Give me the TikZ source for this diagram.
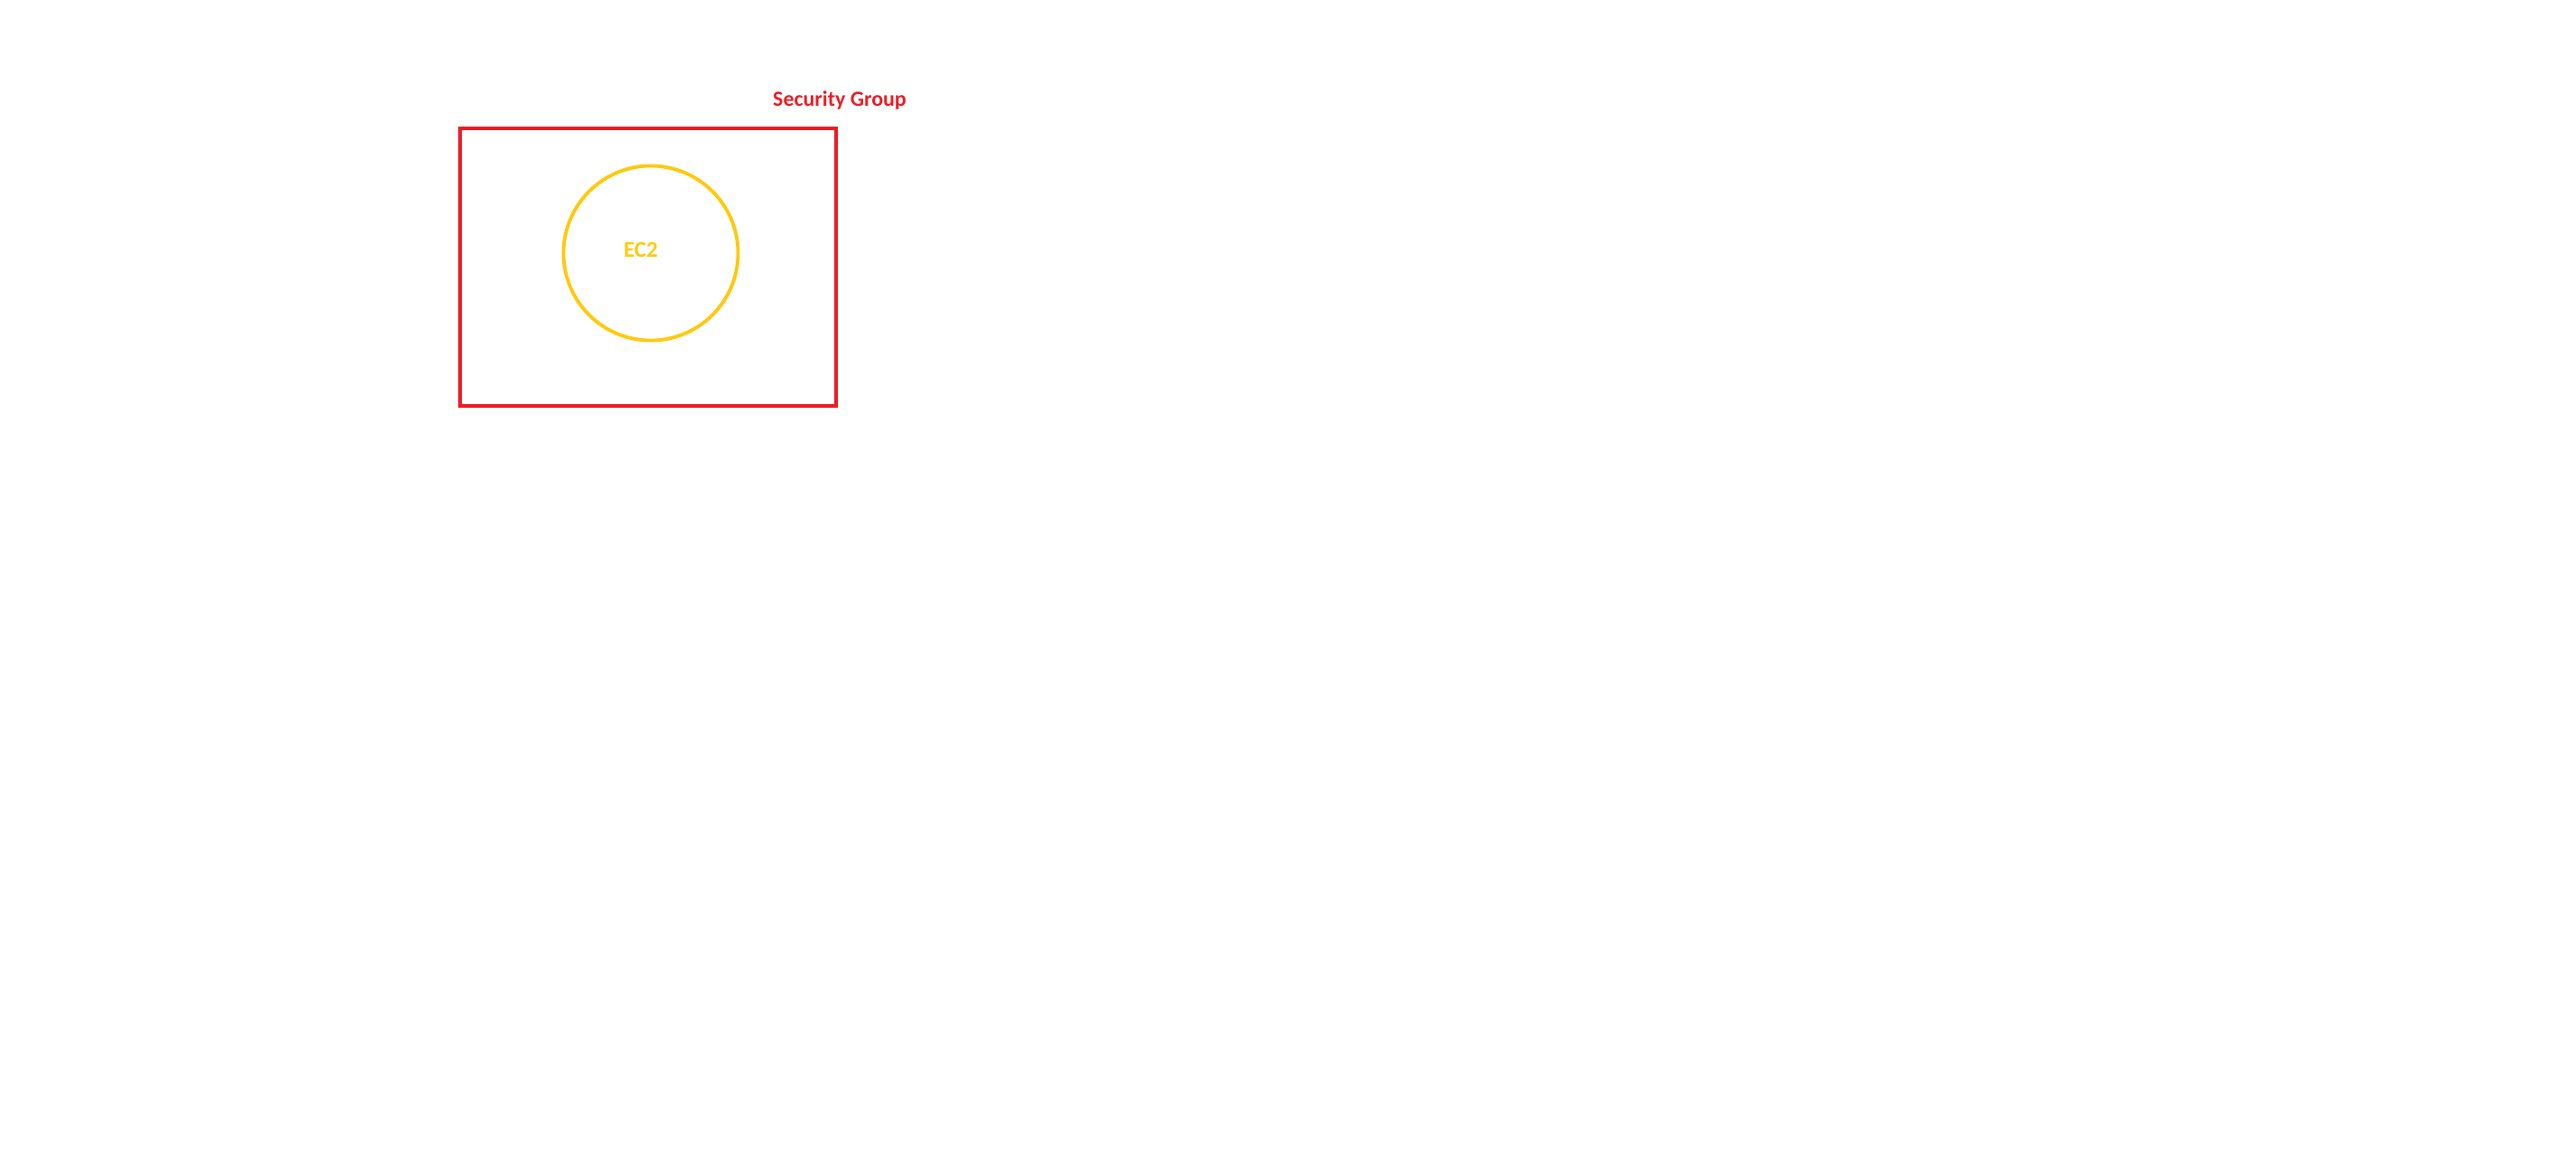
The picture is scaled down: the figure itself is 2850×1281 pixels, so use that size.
\documentclass[tikz,border=0pt]{standalone}
\usepackage{fontspec}
\setmainfont{Carlito}
\usetikzlibrary{fit}
\definecolor{sgred}{HTML}{ED1C24}
\definecolor{ecgold}{HTML}{FFC90E}

\begin{document}
\begin{tikzpicture}[x=0.01cm, y=-0.01cm]
    \useasboundingbox (0,0) rectangle (2850,1281);

    \node[draw=sgred, line width=1.3pt, inner sep=0pt, fit={(509,142) (925,449)}] (sg) {};
    \node[text=sgred, font=\fontsize{6.8}{8}\selectfont\bfseries] (sglabel) at (929,111) {Security Group};

    \node[draw=ecgold, line width=1.1pt, circle, inner sep=0pt, minimum size=1.93cm,
          label={[text=ecgold, font=\fontsize{7.1}{8}\selectfont\bfseries, xshift=-0.11cm, yshift=0.04cm]center:{EC2}}] (ec2) at (720,280) {};
\end{tikzpicture}
\end{document}
